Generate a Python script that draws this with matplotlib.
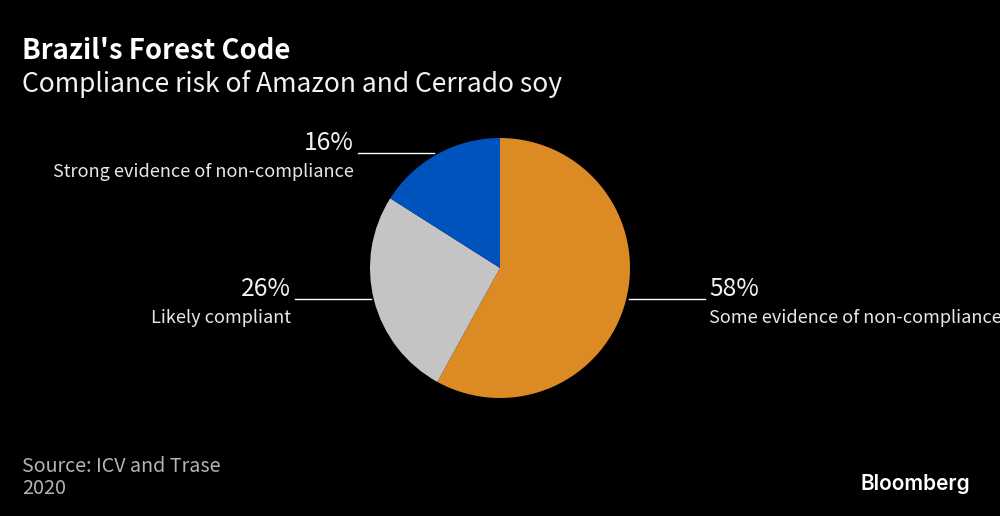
import matplotlib.pyplot as plt

shares = [58, 26, 16]
colors = ["#db8a24", "#c4c4c4", "#0052bd"]
pct_labels = ["58%", "26%", "16%"]
names = ["Some evidence of non-compliance", "Likely compliant", "Strong evidence of non-compliance"]

plt.rcParams["font.family"] = ["Noto Sans CJK SC", "DejaVu Sans"]

fig = plt.figure(figsize=(10, 5.16), dpi=100, facecolor="black")

# pie axes in pixel position: centre 500,267 radius 130
ax = fig.add_axes([370 / 1000, 1 - 398 / 516, 260 / 1000, 260 / 516])
ax.pie(shares, colors=colors, startangle=90, counterclock=False, radius=1,
       wedgeprops={"edgecolor": "none", "linewidth": 0})
ax.set_xlim(-1, 1)
ax.set_ylim(-1, 1)
ax.set_aspect("equal")


def px(x, y):
    return x / 1000, 1 - y / 516


fig.text(*px(22, 51), "Brazil's Forest Code", color="white", fontsize=19.8, fontweight="bold", va="center")
fig.text(*px(22, 83.5), "Compliance risk of Amazon and Cerrado soy", color="#f2f2f2", fontsize=19.05, va="center")

# labels with leader lines
fig.text(*px(709, 288.5), pct_labels[0], color="#f2f2f2", fontsize=17.7, va="center")
fig.text(*px(709, 318), names[0], color="#e8e8e8", fontsize=13.05, va="center")
fig.add_artist(plt.Line2D([629 / 1000, 705 / 1000], [1 - 299 / 516] * 2, color="white", lw=1))

fig.text(*px(291, 288.5), pct_labels[1], color="#f2f2f2", fontsize=17.7, va="center", ha="right")
fig.text(*px(291, 318), names[1], color="#e8e8e8", fontsize=13.05, va="center", ha="right")
fig.add_artist(plt.Line2D([295 / 1000, 371 / 1000], [1 - 299 / 516] * 2, color="white", lw=1))

fig.text(*px(354, 142.5), pct_labels[2], color="#f2f2f2", fontsize=17.7, va="center", ha="right")
fig.text(*px(354, 172), names[2], color="#e8e8e8", fontsize=13.05, va="center", ha="right")
fig.add_artist(plt.Line2D([358 / 1000, 434 / 1000], [1 - 153 / 516] * 2, color="white", lw=1))

fig.text(*px(22, 466), "Source: ICV and Trase", color="#b4b4b4", fontsize=14.2, va="center")
fig.text(*px(22, 488), "2020", color="#b4b4b4", fontsize=14.2, va="center")
fig.text(*px(860, 484), "Bloomberg", color="white", fontsize=15, fontweight="semibold",
         family=["Inter", "DejaVu Sans"], va="center")

fig.savefig("out.png", dpi=100, facecolor="black")
